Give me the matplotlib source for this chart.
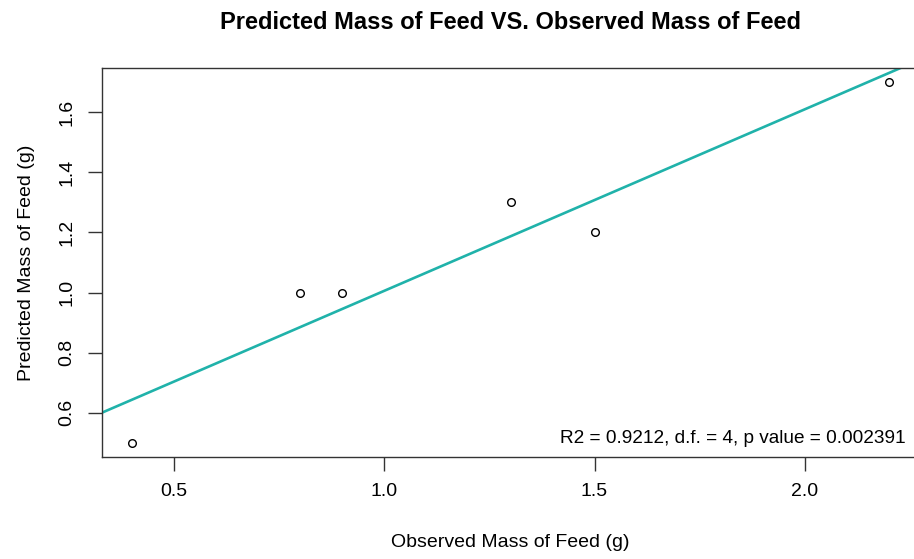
import numpy as np
import matplotlib.pyplot as plt

plt.rcParams['font.family'] = ['Liberation Sans', 'DejaVu Sans']

# observed vs predicted mass of feed (g)
observed = [0.4, 0.8, 0.9, 1.3, 1.5, 2.2]
predicted = [0.5, 1.0, 1.0, 1.3, 1.2, 1.7]
stats_text = "R2 = 0.9212, d.f. = 4, p value = 0.002391"
xticks = [0.5, 1.0, 1.5, 2.0]
yticks = [0.6, 0.8, 1.0, 1.2, 1.4, 1.6]

fig = plt.figure(figsize=(9.14, 5.59), dpi=100)
ax = fig.add_axes([102 / 914, 102 / 559, 817 / 914, 389 / 559])

ax.plot(observed, predicted, 'o', mfc='white', mec='black', ms=5.5, mew=1, zorder=3)

# linear fit drawn across the whole plot region (like abline)
slope, intercept = np.polyfit(observed, predicted, 1)
ax.axline((0, intercept), slope=slope, color='#20B2AA', lw=1.9, zorder=2)

ax.set_xlim(0.328, 2.272)
ax.set_ylim(0.452, 1.748)
ax.set_xticks(xticks)
ax.set_xticklabels(['0.5', '1.0', '1.5', '2.0'])
ax.set_yticks(yticks)
ax.set_yticklabels(['0.6', '0.8', '1.0', '1.2', '1.4', '1.6'], rotation=90, va='center')
ax.tick_params(length=10, width=1, labelsize=14, pad=9, color='#333333')
for s in ax.spines.values():
    s.set_color('#333333')
    s.set_linewidth(1)

ax.set_xlabel('Observed Mass of Feed (g)', fontsize=14, labelpad=24)
ax.set_ylabel('Predicted Mass of Feed (g)', fontsize=14, labelpad=17)
ax.set_title('Predicted Mass of Feed VS. Observed Mass of Feed', fontsize=17,
             fontweight='bold', pad=28)
ax.text(0.9835, 0.047, stats_text, transform=ax.transAxes, ha='right', va='center',
        fontsize=13.7)

fig.savefig('out.png', dpi=100)
